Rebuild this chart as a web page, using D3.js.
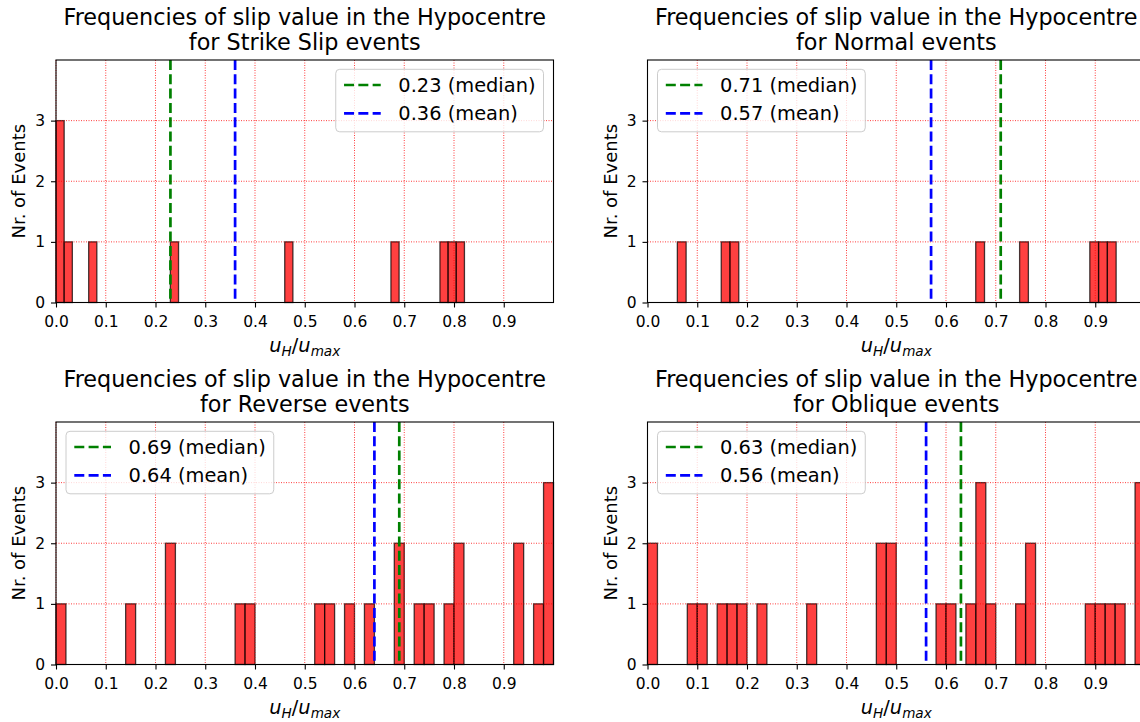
<!DOCTYPE html>
<html>
<head>
<meta charset="utf-8">
<script src="https://cdn.jsdelivr.net/npm/d3@7"></script>
<style>
  html, body { margin: 0; padding: 0; background: #ffffff; }
  svg { display: block; overflow: hidden; }
  text { font-family: "DejaVu Sans", sans-serif; fill: #000; }
</style>
</head>
<body>
<script>
// Rupture mechanism of each panel
const eventTypes = ["Strike Slip", "Normal", "Reverse", "Oblique"];

// Histogram range (min / max of u_H/u_max) per mechanism, split into 50 bins
const binLo = [0.0, 0.06, 0.0, 0.0];
const binHi = [0.821, 0.942, 1.0, 1.0];

// Number of events in each of the 50 bins
const strikeSlipCounts = [
  3,1,0,0,1,0,0,0,0,0,
  0,0,0,0,1,0,0,0,0,0,
  0,0,0,0,0,0,0,0,1,0,
  0,0,0,0,0,0,0,0,0,0,
  0,1,0,0,0,0,0,1,1,1
];
const normalCounts = [
  1,0,0,0,0,1,1,0,0,0,
  0,0,0,0,0,0,0,0,0,0,
  0,0,0,0,0,0,0,0,0,0,
  0,0,0,0,1,0,0,0,0,1,
  0,0,0,0,0,0,0,1,1,1
];
const reverseCounts = [
  1,0,0,0,0,0,0,1,0,0,
  0,2,0,0,0,0,0,0,1,1,
  0,0,0,0,0,0,1,1,0,1,
  0,1,0,0,2,0,1,1,0,1,
  2,0,0,0,0,0,2,0,1,3
];
const obliqueCounts = [
  2,0,0,0,1,1,0,1,1,1,
  0,1,0,0,0,0,1,0,0,0,
  0,0,0,2,2,0,0,0,0,1,
  1,0,1,3,1,0,0,1,2,0,
  0,0,0,0,1,1,1,1,0,3
];
const allCounts = [strikeSlipCounts, normalCounts, reverseCounts, obliqueCounts];

// Summary statistics shown as vertical lines
const medians = [0.23, 0.71, 0.69, 0.63];
const means = [0.36, 0.57, 0.64, 0.56];

// Axis ticks
const xTicks = [0, 0.1, 0.2, 0.3, 0.4, 0.5, 0.6, 0.7, 0.8, 0.9];
const yTicks = [0, 1, 2, 3];
const nBins = 50;

// ---- layout ----
const colX = [56, 647.5];
const rowY = [60, 422];
const W = 497.5, H = 242.5;
const legendOnRight = [true, false, false, false];

const svg = d3.select("body").append("svg")
  .attr("width", 1140).attr("height", 722);

eventTypes.forEach((type, i) => {
  const col = i % 2, row = Math.floor(i / 2);
  const g = svg.append("g")
    .attr("transform", `translate(${colX[col]},${rowY[row]})`);

  const x = d3.scaleLinear().domain([0, 1]).range([0, W]);
  const y = d3.scaleLinear().domain([0, 4]).range([H, 0]);

  const lo = binLo[i], hi = binHi[i], step = (hi - lo) / nBins;
  const bins = allCounts[i].map((c, k) => ({
    x0: lo + k * step, x1: lo + (k + 1) * step, count: c
  })).filter(b => b.count > 0);

  // bars
  g.append("g").selectAll("rect").data(bins).join("rect")
    .attr("x", d => x(d.x0))
    .attr("width", d => x(d.x1) - x(d.x0))
    .attr("y", d => y(d.count))
    .attr("height", d => y(0) - y(d.count))
    .attr("fill", "#ff0000").attr("fill-opacity", 0.75)
    .attr("stroke", "#000").attr("stroke-opacity", 0.72)
    .attr("stroke-width", 1.3);

  // dotted red grid
  const grid = g.append("g")
    .attr("stroke", "#ff0000").attr("stroke-opacity", 0.85)
    .attr("stroke-width", 0.9).attr("stroke-dasharray", "1,1.5");
  grid.selectAll("line.gx").data(xTicks).join("line").attr("class", "gx")
    .attr("x1", d => x(d)).attr("x2", d => x(d))
    .attr("y1", 0).attr("y2", H);
  grid.selectAll("line.gy").data(yTicks).join("line").attr("class", "gy")
    .attr("x1", 0).attr("x2", W)
    .attr("y1", d => y(d)).attr("y2", d => y(d));

  // median and mean lines
  const stats = [
    { v: medians[i], color: "#008000", label: `${medians[i].toFixed(2)} (median)` },
    { v: means[i], color: "#0000ff", label: `${means[i].toFixed(2)} (mean)` }
  ];
  g.append("g").selectAll("line").data(stats).join("line")
    .attr("x1", d => x(d.v)).attr("x2", d => x(d.v))
    .attr("y1", 0).attr("y2", H)
    .attr("stroke", d => d.color).attr("stroke-width", 2.7)
    .attr("stroke-dasharray", "10,4.3");

  // axes
  const xAxis = g.append("g").attr("transform", `translate(0,${H})`)
    .call(d3.axisBottom(x).tickValues(xTicks).tickSize(5).tickPadding(8)
      .tickFormat(d3.format(".1f")));
  const yAxis = g.append("g")
    .call(d3.axisLeft(y).tickValues(yTicks).tickSize(5).tickPadding(6)
      .tickFormat(d3.format("d")));
  [xAxis, yAxis].forEach(a => {
    a.select(".domain").remove();
    a.selectAll(".tick line").attr("stroke", "#000").attr("stroke-width", 1.1);
    a.selectAll(".tick text").style("font-size", "15.5px")
      .style("font-family", "DejaVu Sans").attr("fill", "#000");
  });

  // frame
  g.append("rect").attr("x", 0).attr("y", 0).attr("width", W).attr("height", H)
    .attr("fill", "none").attr("stroke", "#000").attr("stroke-width", 1.1);

  // title
  const title = g.append("text").attr("text-anchor", "middle")
    .style("font-size", "22.3px");
  title.append("tspan").attr("x", W / 2).attr("y", -35.5)
    .text("Frequencies of slip value in the Hypocentre");
  title.append("tspan").attr("x", W / 2).attr("y", -10)
    .text(`for ${type} events`);

  // axis labels
  g.append("text")
    .attr("transform", `translate(-31,${H / 2}) rotate(-90)`)
    .attr("text-anchor", "middle").style("font-size", "18px")
    .text("Nr. of Events");

  const xl = g.append("text").attr("x", W / 2).attr("y", H + 49.5)
    .attr("text-anchor", "middle").style("font-size", "19.4px");
  xl.append("tspan").attr("font-style", "italic").text("u");
  xl.append("tspan").attr("font-style", "italic").attr("dy", 4)
    .style("font-size", "13.6px").text("H");
  xl.append("tspan").attr("dy", -4).text("/");
  xl.append("tspan").attr("font-style", "italic").text("u");
  xl.append("tspan").attr("font-style", "italic").attr("dy", 4)
    .style("font-size", "13.6px").text("max");

  // legend
  const leg = g.append("g");
  const box = leg.append("rect").attr("rx", 4).attr("ry", 4)
    .attr("fill", "#ffffff").attr("fill-opacity", 0.8)
    .attr("stroke", "#cccccc").attr("stroke-width", 1);
  const rowYs = [15.7, 44];
  let maxW = 0;
  stats.forEach((s, k) => {
    leg.append("line")
      .attr("x1", 8.3).attr("x2", 45)
      .attr("y1", rowYs[k]).attr("y2", rowYs[k])
      .attr("stroke", s.color).attr("stroke-width", 2.7)
      .attr("stroke-dasharray", "10,4.3");
    const t = leg.append("text").attr("x", 62.6).attr("y", rowYs[k])
      .attr("dy", "0.36em").style("font-size", "19.4px").text(s.label);
    maxW = Math.max(maxW, t.node().getComputedTextLength());
  });
  const bw = 62.6 + maxW + 8, bh = 62.5;
  box.attr("width", bw).attr("height", bh);
  const lx = legendOnRight[i] ? W - 10 - bw : 10;
  leg.attr("transform", `translate(${lx},9.3)`);
});
</script>
</body>
</html>
